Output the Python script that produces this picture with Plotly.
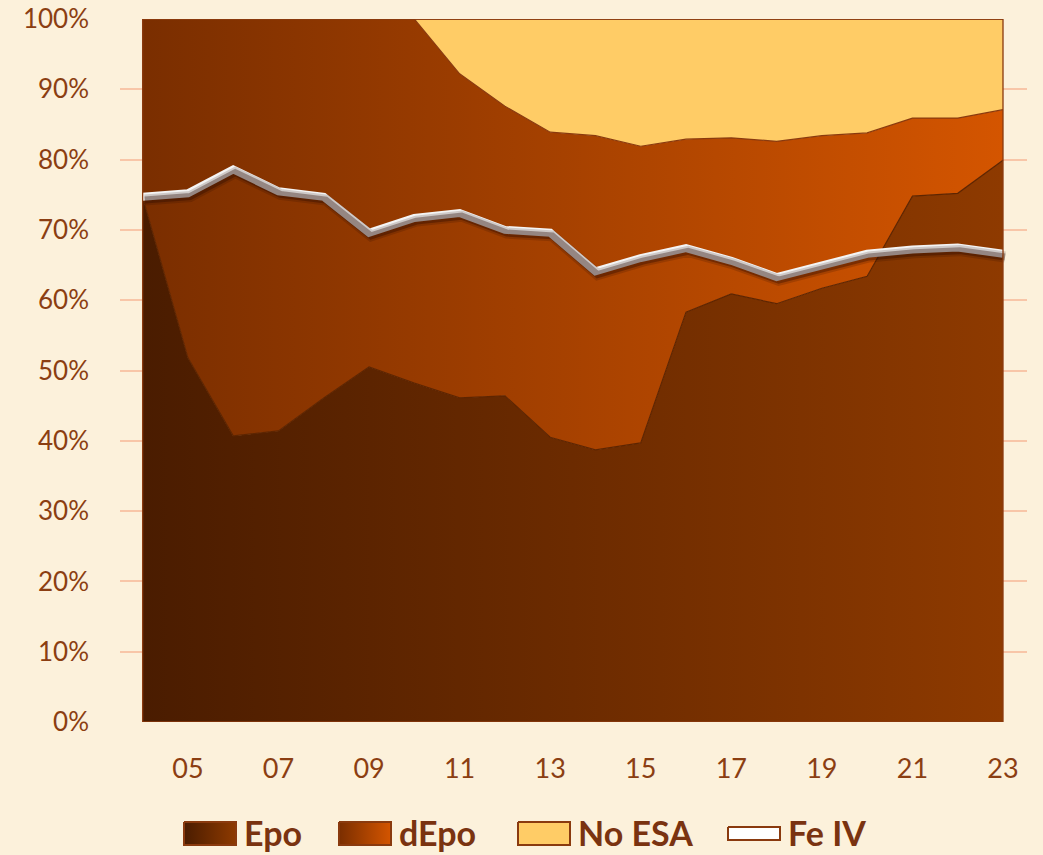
import numpy as np
import plotly.graph_objects as go

years = list(range(2004, 2024))
epo = [74.7, 51.8, 40.7, 41.4, 46.1, 50.5, 48.2, 46.1, 46.4, 40.5,
       38.7, 39.7, 58.3, 60.9, 59.5, 61.7, 63.4, 74.8, 75.2, 79.9]
depo = [25.3, 48.2, 59.3, 58.6, 53.9, 49.5, 51.8, 46.1, 41.2, 43.4,
        44.7, 42.2, 24.6, 22.2, 23.1, 21.7, 20.4, 11.1, 10.7, 7.2]
no_esa = [0, 0, 0, 0, 0, 0, 0, 7.8, 12.4, 16.1,
          16.6, 18.1, 17.1, 16.9, 17.4, 16.6, 16.2, 14.1, 14.1, 12.9]
fe_iv = [74.7, 75.2, 78.6, 75.5, 74.7, 69.6, 71.7, 72.4, 70.0, 69.6,
         64.1, 66.0, 67.4, 65.6, 63.3, 65.0, 66.6, 67.2, 67.5, 66.6]
tick_years = [2005, 2007, 2009, 2011, 2013, 2015, 2017, 2019, 2021, 2023]
tick_labels = ["05", "07", "09", "11", "13", "15", "17", "19", "21", "23"]
series_names = ["Epo", "dEpo", "No ESA", "Fe IV"]

c1 = np.array(epo)
c2 = c1 + np.array(depo)
c3 = c2 + np.array(no_esa)

BROWN = "#8A3A0E"
TXT = "#8B3E12"
LEG_TXT = "#7A3310"
BG = "#FCF1DB"
FONT = "Lato"

EPO_GRAD = [[0, "#4A1C00"], [1, "#8E3A00"]]
DEPO_GRAD = [[0, "#7A2E00"], [1, "#D45500"]]
NOESA_COL = "#FFCC66"
LINE_COL = "#F4F4F4"

W, H = 1043, 855
ML, MR, MT, MB = 120, 16, 19, 0
plot_bottom_px = 722
ydom0 = (H - plot_bottom_px) / (H - MT - MB)

fig = go.Figure()
fig.add_trace(go.Scatter(
    x=years, y=c1, name="Epo", mode="lines", fill="tozeroy",
    line=dict(color="#5E2500", width=1.2),
    fillgradient=dict(type="horizontal", colorscale=EPO_GRAD),
    hoverinfo="skip", showlegend=False))
fig.add_trace(go.Scatter(
    x=years, y=c2, name="dEpo", mode="lines", fill="tonexty",
    line=dict(color=BROWN, width=1.2),
    fillgradient=dict(type="horizontal", colorscale=DEPO_GRAD),
    hoverinfo="skip", showlegend=False))
fig.add_trace(go.Scatter(
    x=years, y=c3, name="No ESA", mode="lines", fill="tonexty",
    line=dict(color=BROWN, width=1.5), fillcolor=NOESA_COL,
    hoverinfo="skip", showlegend=False))
# soft shadow of the Fe IV line (same data, slightly offset axes)
fig.add_trace(go.Scatter(
    x=years, y=fe_iv, mode="lines", showlegend=False, xaxis="x2", yaxis="y2",
    line=dict(color="rgba(40,10,0,0.18)", width=11), hoverinfo="skip"))
fig.add_trace(go.Scatter(
    x=years, y=fe_iv, mode="lines", showlegend=False, xaxis="x2", yaxis="y2",
    line=dict(color="rgba(40,10,0,0.35)", width=7), hoverinfo="skip"))
fig.add_trace(go.Scatter(
    x=years, y=fe_iv, name="Fe IV", mode="lines", showlegend=False,
    line=dict(color=LINE_COL, width=8), hoverinfo="skip"))

# outline of the area block
fig.add_shape(type="rect", xref="x", yref="y", x0=years[0], x1=years[-1],
              y0=0, y1=100, line=dict(color=BROWN, width=1.3), layer="above")

# ---- custom legend (pixel-based auxiliary axes) ----
leg_x = [184, 339, 518, 728]
sw_w = 52
sw_h = [23, 23, 23, 13]
leg_cy = 833.5
text_gap = 6
fills = [("grad", EPO_GRAD), ("grad", DEPO_GRAD), ("solid", NOESA_COL), ("solid", "#FFFFFF")]
for name, lx, hh, (kind, val) in zip(series_names, leg_x, sw_h, fills):
    xs = [lx, lx + sw_w, lx + sw_w, lx, lx]
    ys = [leg_cy - hh / 2, leg_cy - hh / 2, leg_cy + hh / 2, leg_cy + hh / 2, leg_cy - hh / 2]
    kw = dict(x=xs, y=ys, mode="lines", fill="toself", xaxis="x3", yaxis="y3",
              line=dict(color=BROWN, width=2), showlegend=False, hoverinfo="skip")
    if kind == "grad":
        kw["fillgradient"] = dict(type="horizontal", colorscale=val)
    else:
        kw["fillcolor"] = val
    fig.add_trace(go.Scatter(**kw))
    fig.add_annotation(x=lx + sw_w + text_gap, y=leg_cy - 1, xref="x3", yref="y3",
                       text=f"<b>{name}</b>", showarrow=False, xanchor="left",
                       yanchor="middle", font=dict(size=34, color=LEG_TXT, family=FONT))

y3_dom = 0.1
fig.update_layout(
    width=W, height=H, autosize=False,
    paper_bgcolor=BG, plot_bgcolor=BG,
    margin=dict(l=ML, r=MR, t=MT, b=MB, autoexpand=False),
    font=dict(family=FONT, color=TXT),
    showlegend=False,
    xaxis=dict(range=[2003.5, 2023.53], tickvals=tick_years, ticktext=tick_labels,
               showgrid=False, zeroline=False, showline=False, ticks="",
               tickfont=dict(size=27, color=TXT), ticklabelstandoff=28,
               anchor="y", automargin=False),
    yaxis=dict(domain=[ydom0, 1], range=[0, 100], tickvals=list(range(0, 101, 10)),
               ticktext=[f"{v}%" for v in range(0, 101, 10)],
               showgrid=True, gridcolor="#F8C6A8", gridwidth=1.5,
               zeroline=False, showline=False, ticks="",
               tickfont=dict(size=26, color=TXT), ticklabelstandoff=30,
               anchor="x", automargin=False),
    xaxis2=dict(range=[2003.5 - 0.045, 2023.53 - 0.045], overlaying="x",
                visible=False, automargin=False),
    yaxis2=dict(domain=[ydom0, 1], range=[0.45, 100.45], overlaying="y",
                visible=False, automargin=False),
    xaxis3=dict(domain=[0, 1], range=[ML, W - MR], visible=False, anchor="y3",
                fixedrange=True, automargin=False),
    yaxis3=dict(domain=[0, y3_dom], range=[H, H - y3_dom * (H - MT - MB)],
                visible=False, anchor="x3", fixedrange=True, automargin=False),
)

css_js = ("document.documentElement.style.margin='0px';"
          "document.body.style.margin='0px';"
          "document.body.style.overflow='hidden';"
          f"document.body.style.background='{BG}';")
fig.write_html("out.html", post_script=css_js,
               config={"displayModeBar": False})
